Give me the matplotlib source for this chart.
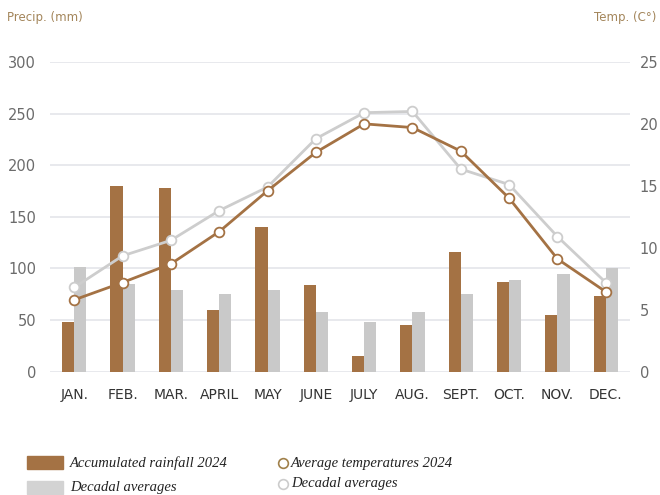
import matplotlib.pyplot as plt
from matplotlib.patches import Rectangle
from matplotlib.lines import Line2D
import numpy as np

months = ['JAN.', 'FEB.', 'MAR.', 'APRIL', 'MAY', 'JUNE', 'JULY', 'AUG.',
          'SEPT.', 'OCT.', 'NOV.', 'DEC.']
rain_2024 = [48, 180, 178, 60, 140, 84, 15, 45, 116, 87, 55, 73]
rain_decadal = [101, 85, 79, 75, 79, 58, 48, 58, 75, 89, 95, 100]
temp_2024 = [5.8, 7.2, 8.7, 11.3, 14.6, 17.7, 20.0, 19.7, 17.8, 14.0, 9.1, 6.45]
temp_decadal = [6.8, 9.35, 10.6, 13.0, 14.9, 18.8, 20.9, 21.0, 16.35, 15.1, 10.9, 7.2]

brown = '#a47244'
grey_bar = '#c9c9c9'
grey_line = '#cdcdcd'
title_col = '#a3855a'
tick_col = '#6b6b6b'

fig = plt.figure(figsize=(6.6, 4.95), dpi=100)
ax = fig.add_axes([0.0758, 0.249, 0.8787, 0.626])
ax2 = ax.twinx()

x = np.arange(len(months))
w = 0.25
ax.bar(x - w / 2, rain_2024, width=w, color=brown, zorder=2)
ax.bar(x + w / 2, rain_decadal, width=w, color=grey_bar, zorder=2)

ax2.plot(x, temp_decadal, color=grey_line, lw=2.0, marker='o', ms=7,
         mfc='white', mec=grey_line, mew=1.3, zorder=3)
ax2.plot(x, temp_2024, color=brown, lw=2.0, marker='o', ms=7,
         mfc='white', mec=brown, mew=1.3, zorder=4)

ax.set_xlim(-0.5, 11.5)
ax.set_ylim(0, 300)
ax2.set_ylim(0, 25)
ax.set_yticks(np.arange(0, 301, 50))
ax2.set_yticks(np.arange(0, 26, 5))
ax.set_xticks(x)
ax.set_xticklabels(months)

for a in (ax, ax2):
    for s in a.spines.values():
        s.set_visible(False)
ax.grid(axis='y', color='#e4e5ea', lw=1.2, zorder=0)
ax.set_axisbelow(True)
ax.tick_params(axis='y', length=0, pad=10, labelsize=10.5, labelcolor=tick_col)
ax2.tick_params(axis='y', length=0, pad=7, labelsize=10.5, labelcolor=tick_col)
ax.tick_params(axis='x', length=0, pad=12, labelsize=10, labelcolor='#333333')
ax2.set_zorder(ax.get_zorder() + 1)

fig.text(0.011, 0.965, 'Precip. (mm)', color=title_col, fontsize=8.5, ha='left', va='center')
fig.text(0.995, 0.965, 'Temp. (C°)', color=title_col, fontsize=8.5, ha='right', va='center')

# legend
W, H = 660, 495
fig.patches.append(Rectangle((27 / W, 1 - 469 / H), 36 / W, 13 / H, color=brown,
                             transform=fig.transFigure, figure=fig))
fig.patches.append(Rectangle((27 / W, 1 - 494 / H), 36 / W, 13 / H, color='#d3d3d3',
                             transform=fig.transFigure, figure=fig))
leg_font = dict(family='Liberation Serif', style='italic', fontsize=10.5, color='#222222',
                va='center', ha='left')
fig.text(70 / W, 1 - 463 / H, 'Accumulated rainfall 2024', **leg_font)
fig.text(70 / W, 1 - 487 / H, 'Decadal averages', **leg_font)
fig.lines.append(Line2D([283 / W], [1 - 463 / H], marker='o', ms=7, mfc='white',
                        mec='#a0804a', mew=1.2, transform=fig.transFigure, figure=fig))
fig.lines.append(Line2D([283 / W], [1 - 484 / H], marker='o', ms=7, mfc='white',
                        mec='#cccccc', mew=1.2, transform=fig.transFigure, figure=fig))
fig.text(291 / W, 1 - 463 / H, 'Average temperatures 2024', **leg_font)
fig.text(291 / W, 1 - 484 / H, 'Decadal averages', **leg_font)

plt.savefig('out.png', dpi=100)
